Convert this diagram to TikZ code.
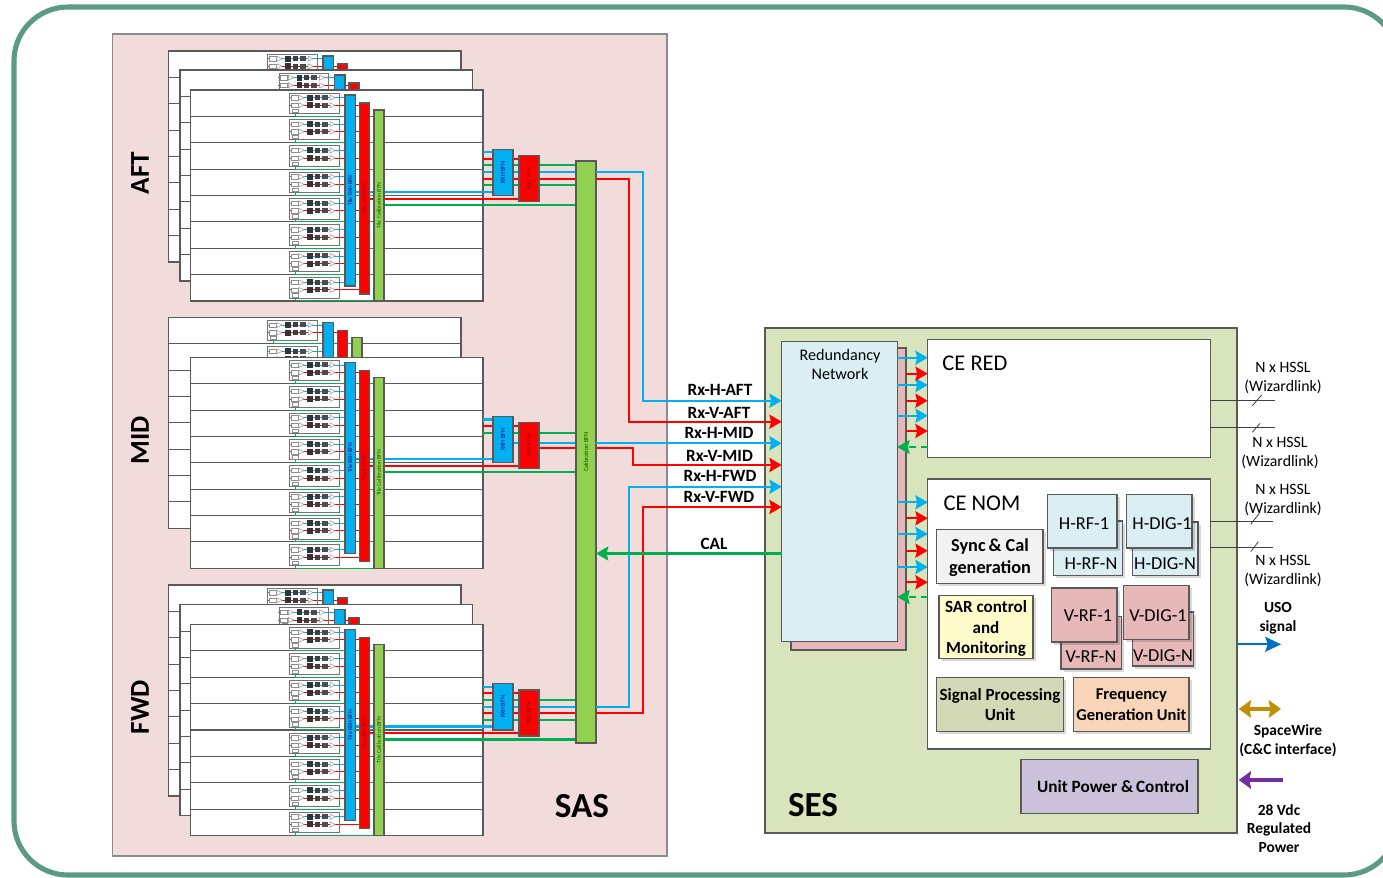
\documentclass[tikz,border=0pt]{standalone}
\usepackage{fontspec}
\setmainfont{Carlito}
\usepackage{xcolor}
\usepackage{tikz}
\usetikzlibrary{arrows.meta, positioning, calc, shadows}
\definecolor{framegreen}{HTML}{5B9A85}
\definecolor{saspink}{HTML}{F2DCDB}
\definecolor{sesgreen}{HTML}{D7E4BC}
\definecolor{netblue}{HTML}{DAEEF3}
\definecolor{netpink}{HTML}{E6B8B7}
\definecolor{rxblue}{HTML}{00B0F0}
\definecolor{rxred}{HTML}{FF0000}
\definecolor{calgreen}{HTML}{92D050}
\definecolor{wiregreen}{HTML}{00B050}
\definecolor{edgegrey}{HTML}{595959}
\pgfdeclarelayer{panels}
\pgfdeclarelayer{wires}
\pgfsetlayers{panels,wires,main}
\tikzset{
  boxed/.style={draw=edgegrey, line width=0.6pt, inner sep=0pt, outer sep=0pt},
  softboxed/.style={boxed, drop shadow={shadow xshift=1.5pt, shadow yshift=-1.5pt, fill=black, opacity=.15}},
  panelbox/.style={boxed, fill=white},
  rowline/.style={draw=edgegrey, line width=0.6pt},
  tilebfn/.style={boxed, font=\fontsize{3.3}{4}\selectfont},
  rowbfn/.style={boxed, font=\fontsize{3.5}{4}\selectfont},
  cebox/.style={boxed, fill=white, font=\fontsize{12.8}{14}\selectfont},
  unitbox/.style={softboxed, align=center, font=\bfseries\fontsize{9.7}{11.6}\selectfont},
  unittxt/.style={inner sep=0pt, align=center, font=\bfseries\fontsize{9.7}{11.6}\selectfont},
  boardtxt/.style={inner sep=0pt, font=\fontsize{10.4}{12}\selectfont},
  linktxt/.style={inner sep=0pt, font=\bfseries\fontsize{9.8}{11}\selectfont},
  hssltxt/.style={inner sep=0pt, align=center, font=\fontsize{9}{10.8}\selectfont},
  sidetxt/.style={inner sep=0pt, align=center, font=\bfseries\fontsize{8.8}{10.6}\selectfont},
  bigtxt/.style={inner sep=0pt, font=\bfseries\fontsize{20}{22}\selectfont},
  facetxt/.style={inner sep=0pt, rotate=90, font=\bfseries\fontsize{15.5}{18}\selectfont},
  bluewire/.style={draw=rxblue, line width=1.15pt},
  redwire/.style={draw=rxred, line width=1.15pt},
  greenwire/.style={draw=wiregreen, line width=1.18pt},
  partbox/.style={draw=black!45, line width=0.25pt, fill=white},
  hsslwire/.style={draw=black!75, line width=0.45pt}
}
\newcommand{\blk}[7]{%
  \pgfmathsetmacro{\blkw}{((#5)-(#3))*0.02}
  \pgfmathsetmacro{\blkh}{((#6)-(#4))*0.02}
  \node[#1, minimum width=\blkw cm, minimum height=\blkh cm] (#2) at ({((#3)+(#5))/2},{((#4)+(#6))/2}) {#7};}
\newcommand{\tilecard}[2]{%
  \begin{scope}[shift={({#1},{#2})}]
    \draw[draw=rxblue, line width=0.5pt] (-1,4.7) -- (56,4.7);
    \draw[draw=rxred, line width=0.5pt] (-1,12.3) -- (70,12.3);
    \draw[draw=wiregreen, line width=0.5pt] (5.7,19) |- (85,23.3);
    \draw[draw=black!55, line width=0.5pt] (0,0) rectangle (49.5,20.5);
    \foreach \cy in {4.7,12.3} {
      \draw[partbox] (1.7,\cy-2.2) rectangle (8.3,\cy+2.2);
      \draw[partbox] (9.3,\cy-2.5) -- (14.7,\cy) -- (9.3,\cy+2.5) -- cycle;
      \fill[black!80] (17.7,\cy-3) rectangle (23,\cy+3);
      \fill[black!75] (25,\cy-2.5) rectangle (30,\cy+2.5);
      \fill[black!70] (32.3,\cy-2.5) rectangle (38,\cy+2.5);
      \draw[partbox] (40.7,\cy-2.5) -- (45.7,\cy) -- (40.7,\cy+2.5) -- cycle;
    }
    \draw[partbox] (3,16) rectangle (8.7,19.3);
  \end{scope}}
\newcommand{\tilepanel}[3]{%
  \blk{panelbox}{panel#1}{#2}{#3}{#2+292.5}{#3+211}{}
  \foreach \row in {1,...,7} {
    \draw[rowline] ({#2},{#3+\row*26.375}) -- ++(292.5,0);
  }
  \foreach \row in {0,...,7} {
    \tilecard{#2+99}{#3+3+\row*26.375}
  }}
\newcommand{\tilebfns}[3]{%
  \blk{tilebfn, fill=rxblue, text=blue!50!black}{tileh#1}{#2+154.5}{#3+5}{#2+165}{#3+196}{\rotatebox{90}{Tile RXH BFN}}
  \blk{tilebfn, fill=rxred, text=red!60!black}{tilev#1}{#2+169}{#3+13}{#2+179}{#3+204}{\rotatebox{90}{Tile RXV BFN}}
  \blk{tilebfn, fill=calgreen, text=green!35!black}{tilec#1}{#2+183.5}{#3+20}{#2+193.5}{#3+211}{\rotatebox{90}{Tile Calibration BFN}}}
\newcommand{\hwire}[4]{\draw[#1] (#2 |- 0,#4) -- (#3 |- 0,#4);}
\newcommand{\rxstack}[2]{%
  \tilebfns{#1}{190.5}{#2}
  \blk{rowbfn, fill=rxblue, text=blue!50!black}{rxh#1}{493}{#2+59.3}{513}{#2+105.5}{\rotatebox{90}{RXH BFN}}
  \blk{rowbfn, fill=rxred, text=red!50!black}{rxv#1}{519}{#2+65.5}{539}{#2+111.5}{\rotatebox{90}{RXV BFN}}
  \begin{pgfonlayer}{wires}
    \hwire{bluewire}{panel#1.east}{rxh#1.west}{#2+62.2}
    \hwire{redwire}{panel#1.east}{rxv#1.west}{#2+68.8}
    \hwire{greenwire}{panel#1.east}{cal.west}{#2+75.3}
    \hwire{bluewire}{tileh#1.east}{rxh#1.west}{#2+102}
    \hwire{redwire}{tilev#1.east}{rxv#1.west}{#2+108.6}
    \hwire{greenwire}{tilec#1.east}{cal.west}{#2+115}
  \end{pgfonlayer}}

\begin{document}
\begin{tikzpicture}[>={Stealth[length=7pt, width=8pt, inset=1pt]}, x=0.02cm, y=-0.02cm]
  \useasboundingbox (0,0) rectangle (1383,878);
  \begin{pgfonlayer}{panels}
    \fill[white] (0,0) rectangle (1383,878);
    \draw[draw=framegreen, line width=2.9pt, rounded corners=1.08cm] (14,7) rectangle (1398,875);
    \blk{boxed, draw=black!45, fill=saspink}{sas}{112.5}{34}{667}{856}{}

    \tilepanel{afta}{168.5}{51}
    \tilebfns{afta}{168.5}{51}
    \tilepanel{aftb}{180}{70}
    \tilebfns{aftb}{180}{70}
    \tilepanel{aft}{190.5}{90}

    \tilepanel{mida}{168.5}{317.3}
    \tilebfns{mida}{168.5}{317.3}
    \tilepanel{mid}{190.5}{357.3}

    \tilepanel{fwda}{168.5}{585}
    \tilebfns{fwda}{168.5}{585}
    \tilepanel{fwdb}{180}{604.7}
    \tilebfns{fwdb}{180}{604.7}
    \tilepanel{fwd}{190.5}{624.5}
  \end{pgfonlayer}

  \blk{tilebfn, fill=calgreen, text=green!35!black}{cal}{576}{161}{596}{743}{\rotatebox{90}{\fontsize{3.6}{4}\selectfont Calibration BFN}}
  \rxstack{aft}{90}
  \rxstack{mid}{357.3}
  \rxstack{fwd}{624.5}

  \begin{pgfonlayer}{wires}
    \hwire{bluewire}{panelaft.east}{cal.west}{172.3}
    \hwire{redwire}{panelaft.east}{cal.west}{178.7}
    \hwire{greenwire}{panelaft.east}{cal.west}{185.3}
    \hwire{bluewire}{rxhmid.east}{cal.west}{443.3}
    \hwire{redwire}{rxvmid.east}{cal.west}{448.3}
    \hwire{bluewire}{panelfwd.east}{cal.west}{706.7}
    \hwire{redwire}{panelfwd.east}{cal.west}{713.3}
    \hwire{greenwire}{panelfwd.east}{cal.west}{720}
  \end{pgfonlayer}

  \node[facetxt] (aftlabel) at (140,173) {AFT};
  \node[facetxt] (midlabel) at (140,440) {MID};
  \node[facetxt] (fwdlabel) at (140,707) {FWD};
  \node[bigtxt] (saslabel) at (582,806) {SAS};

  \blk{boxed, fill=sesgreen}{ses}{765}{328}{1237}{833}{}
  \blk{boxed, fill=netpink}{redundback}{791}{348}{906}{650}{}
  \blk{boxed, fill=netblue}{redund}{781.7}{341.7}{897.3}{641.5}{}
  \node[inner sep=0pt, align=center, font=\fontsize{9.2}{10.8}\selectfont] (redundtxt) at (840,364.5) {Redundancy\\Network};
  \blk{cebox}{cered}{927.7}{339.3}{1210.7}{457.5}{}
  \blk{cebox}{cenom}{927.7}{479}{1210.7}{749}{}
  \node[cebox, draw=none, fill=none] (ceredtxt) at (975,363) {CE RED};
  \node[cebox, draw=none, fill=none] (cenomtxt) at (982,503) {CE NOM};
  \node[bigtxt] (seslabel) at (813,805) {SES};

  \draw[->, bluewire] (cal.east |- 0,172.3) -| (643.3,400.7) -- (redund.west |- 0,400.7);
  \draw[->, redwire] (cal.east |- 0,178.7) -| (629.3,421.7) -- (redund.west |- 0,421.7);
  \draw[->, bluewire] (cal.east |- 0,443.3) -- (redund.west |- 0,443.3);
  \draw[->, redwire] (cal.east |- 0,448.3) -| (633.3,465) -- (redund.west |- 0,465);
  \draw[->, bluewire] (cal.east |- 0,706.7) -| (629.3,486.7) -- (redund.west |- 0,486.7);
  \draw[->, redwire] (cal.east |- 0,713.3) -| (643.3,507) -- (redund.west |- 0,507);
  \draw[->, greenwire] (redund.west |- 0,553.5) -- (cal.east |- 0,553.5);

  \node[linktxt] (rxhaftlabel) at (720,390) {Rx-H-AFT};
  \node[linktxt] (rxvaftlabel) at (719,412.5) {Rx-V-AFT};
  \node[linktxt] (rxhmidlabel) at (719,433) {Rx-H-MID};
  \node[linktxt] (rxvmidlabel) at (719.5,455.5) {Rx-V-MID};
  \node[linktxt] (rxhfwdlabel) at (720,476) {Rx-H-FWD};
  \node[linktxt] (rxvfwdlabel) at (719,497) {Rx-V-FWD};
  \node[linktxt] (callabel) at (714,544) {CAL};

  \foreach \ya in {357.7,385,415.7,502.3,534,567}
    \draw[->, bluewire] (redund.east |- 0,\ya) -- (cered.west |- 0,\ya);
  \foreach \ya in {373.7,400.7,431,518.3,550.7,582.3}
    \draw[->, redwire] (redundback.east |- 0,\ya) -- (cered.west |- 0,\ya);
  \foreach \ya in {447,597}
    \draw[->, greenwire, dash pattern=on 4pt off 2.5pt] (cered.west |- 0,\ya) -- (redund.east |- 0,\ya);

  \blk{softboxed, fill=netblue}{hrfnbox}{1053.3}{521}{1122.7}{575.5}{}
  \blk{softboxed, fill=netblue}{hrfbox}{1047.3}{494.3}{1117}{548}{}
  \blk{softboxed, fill=netblue}{hdignbox}{1132.3}{522}{1198}{575.5}{}
  \blk{softboxed, fill=netblue}{hdigbox}{1126.7}{494.3}{1192}{548}{}
  \blk{softboxed, fill=netpink}{vrfnbox}{1061}{616.7}{1121.3}{669}{}
  \blk{softboxed, fill=netpink}{vrfbox}{1051.3}{588}{1117}{642}{}
  \blk{softboxed, fill=netpink}{vdignbox}{1132.7}{612}{1193.7}{666}{}
  \blk{softboxed, fill=netpink}{vdigbox}{1123.3}{585.3}{1189}{639.7}{}
  \node[boardtxt] (hrftxt) at (1084,524) {H-RF-1};
  \node[boardtxt] (hdigtxt) at (1162,524) {H-DIG-1};
  \node[boardtxt] (hrfntxt) at (1091,563.5) {H-RF-N};
  \node[boardtxt] (hdigntxt) at (1165,564) {H-DIG-N};
  \node[boardtxt] (vrftxt) at (1088,616) {V-RF-1};
  \node[boardtxt] (vdigtxt) at (1158,616) {V-DIG-1};
  \node[boardtxt] (vrfntxt) at (1091,657) {V-RF-N};
  \node[boardtxt] (vdigntxt) at (1163,656) {V-DIG-N};

  \blk{unitbox, fill=black!5}{sync}{936.7}{529.7}{1043}{583.5}{}
  \node[unittxt, font=\bfseries\fontsize{10.4}{12.5}\selectfont] (synctxt) at (990,558) {Sync\,\& Cal\\generation};
  \blk{unitbox, fill=yellow!20}{sar}{939}{595.7}{1033}{658.7}{}
  \node[unittxt] (sartxt) at (986,628.5) {SAR control\\and\\Monitoring};
  \blk{unitbox, fill={rgb,255:red,210;green,217;blue,180}}{sigproc}{936.7}{677.7}{1063.3}{731.7}{Signal Processing\\Unit}
  \blk{unitbox, fill={rgb,255:red,248;green,213;blue,184}, font=\bfseries\fontsize{9.4}{12.4}\selectfont}{freq}{1073.7}{677.7}{1189}{731.7}{Frequency\\Generation Unit}
  \blk{boxed, fill={rgb,255:red,204;green,193;blue,218}}{power}{1021}{759.7}{1198}{813.3}{}
  \node[unittxt, font=\bfseries\fontsize{9.8}{11}\selectfont] (powerlabel) at (1113,787) {Unit Power \&\,Control};

  \hwire{hsslwire}{cered.east}{1275,0}{400.7}
  \hwire{hsslwire}{cered.east}{1275,0}{427.3}
  \hwire{hsslwire}{cenom.east}{1272.7,0}{521}
  \hwire{hsslwire}{cenom.east}{1272.7,0}{547.7}
  \draw[hsslwire] (1252.3,405.7) -- (1261.7,395);
  \draw[hsslwire] (1252.3,432.3) -- (1260,423.3);
  \draw[hsslwire] (1250.7,524.3) -- (1259.3,513.3);
  \draw[hsslwire] (1250.7,551.7) -- (1258.3,541.7);
  \node[hssltxt] (hsslaa) at (1283,378) {N x HSSL\\(Wizardlink)};
  \node[hssltxt] (hsslab) at (1280,452.5) {N x HSSL\\(Wizardlink)};
  \node[hssltxt] (hsslna) at (1283,500) {N x HSSL\\(Wizardlink)};
  \node[hssltxt] (hsslnb) at (1283,571) {N x HSSL\\(Wizardlink)};

  \coordinate (usoend) at (1281,644.3);
  \coordinate (spacewireend) at (1281,709);
  \coordinate (powerstart) at (1283,780);
  \draw[-{Stealth[length=9pt, width=8.5pt, inset=1.5pt]}, draw={rgb,255:red,0;green,112;blue,192}, line width=1.2pt] (ses.east |- usoend) -- (usoend);
  \draw[{Stealth[length=7pt, width=10pt, inset=1pt]}-{Stealth[length=7pt, width=10pt, inset=1pt]}, draw={rgb,255:red,191;green,144;blue,0}, line width=2pt] ([xshift=1pt]ses.east |- spacewireend) -- (spacewireend);
  \draw[-{Stealth[length=7pt, width=10pt, inset=1pt]}, draw={rgb,255:red,112;green,48;blue,160}, line width=2pt] (powerstart) -- ([xshift=1pt]ses.east |- powerstart);
  \node[sidetxt] (usotxt) at (1278,618) {USO\\signal};
  \node[sidetxt] (spacewiretxt) at (1288,740.5) {SpaceWire\\(C\&C interface)};
  \node[sidetxt] (powertxt) at (1279,828.5) {28 Vdc\\Regulated\\Power};
\end{tikzpicture}
\end{document}
